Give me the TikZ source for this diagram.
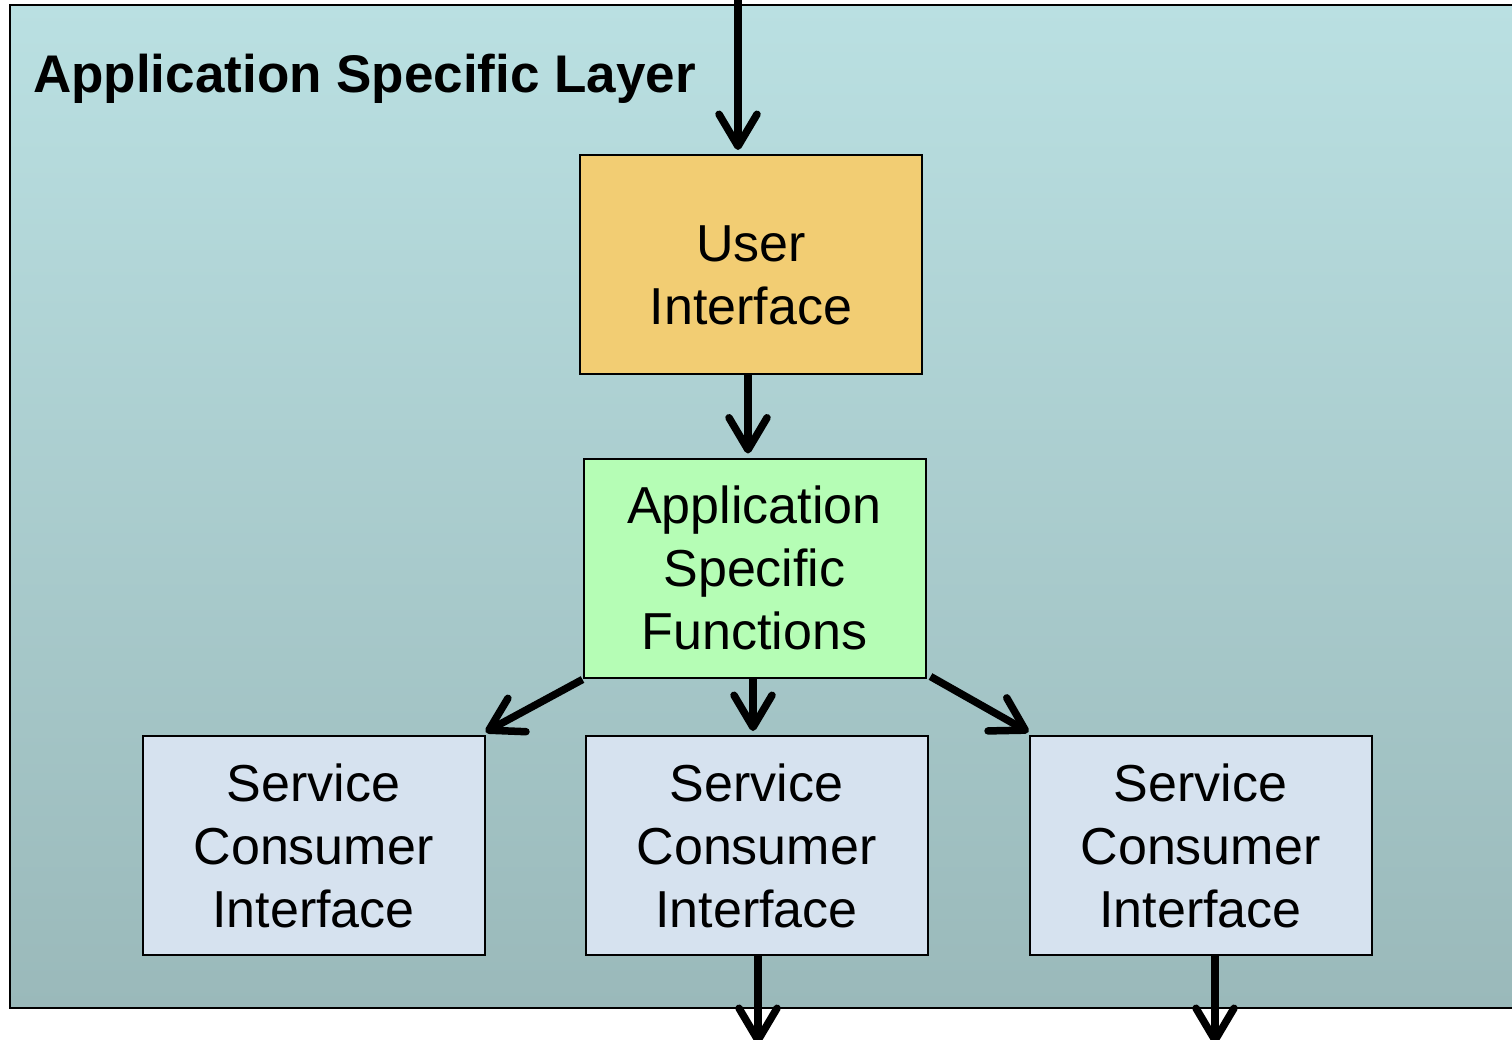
\documentclass[tikz,border=0pt]{standalone}
\usepackage{fontspec}
\setmainfont{Liberation Sans}
\usetikzlibrary{arrows.meta,calc}
\definecolor{bgtop}{RGB}{186,224,226}
\definecolor{bgbot}{RGB}{154,185,186}
\definecolor{uifill}{RGB}{242,205,115}
\definecolor{asffill}{RGB}{181,253,181}
\definecolor{scifill}{RGB}{214,226,239}
\tikzset{
  box/.style={draw=black, line width=2pt, minimum width=342pt, minimum height=219pt,
    align=center, inner sep=0pt, font=\fontsize{52}{63}\selectfont},
  arr/.style={line width=7.5pt, -{Straight Barb[length=32pt,width=38pt,line cap=round,line join=round]}}
}
\begin{document}
\begin{tikzpicture}[x=1pt,y=-1pt]
\useasboundingbox (0,0) rectangle (1512,1039);
\shade[top color=bgtop, bottom color=bgbot, draw=black, line width=2pt] (10,5) rectangle (1530,1008);
\node[anchor=base west, font=\fontsize{53}{63}\bfseries\selectfont, inner sep=0pt] (title) at (33,92) {Application Specific Layer};
\node[box, fill=uifill] (ui) at (751,264.5) {\rule{0pt}{58pt}User\\Interface};
\node[box, fill=asffill] (asf) at (754.5,568) {Application\\Specific\\Functions};
\node[box, fill=scifill] (s1) at (313.5,845.5) {Service\\Consumer\\Interface};
\node[box, fill=scifill] (s2) at (756.5,845.5) {Service\\Consumer\\Interface};
\node[box, fill=scifill] (s3) at (1200.5,845.5) {Service\\Consumer\\Interface};
\coordinate (in) at (738,-10);
\coordinate (out2) at (758,1044);
\coordinate (out3) at (1215,1044);
\draw[arr] (in) -- ([yshift=4pt]in |- ui.north);
\draw[arr] ([xshift=-3pt]ui.south) -- ([xshift=-3pt,yshift=4pt]ui.south |- asf.north);
\draw[arr] ([xshift=-1.5pt]asf.south) -- ([xshift=-1.5pt,yshift=4pt]asf.south |- s2.north);
\draw[arr] ([yshift=-1pt]asf.south west) -- ([yshift=3pt]s1.north east);
\draw[arr] ([xshift=4pt,yshift=2pt]asf.south east) -- ([yshift=3pt]s3.north west);
\draw[arr] (s2.south -| out2) -- (out2);
\draw[arr] (s3.south -| out3) -- (out3);
\end{tikzpicture}
\end{document}
